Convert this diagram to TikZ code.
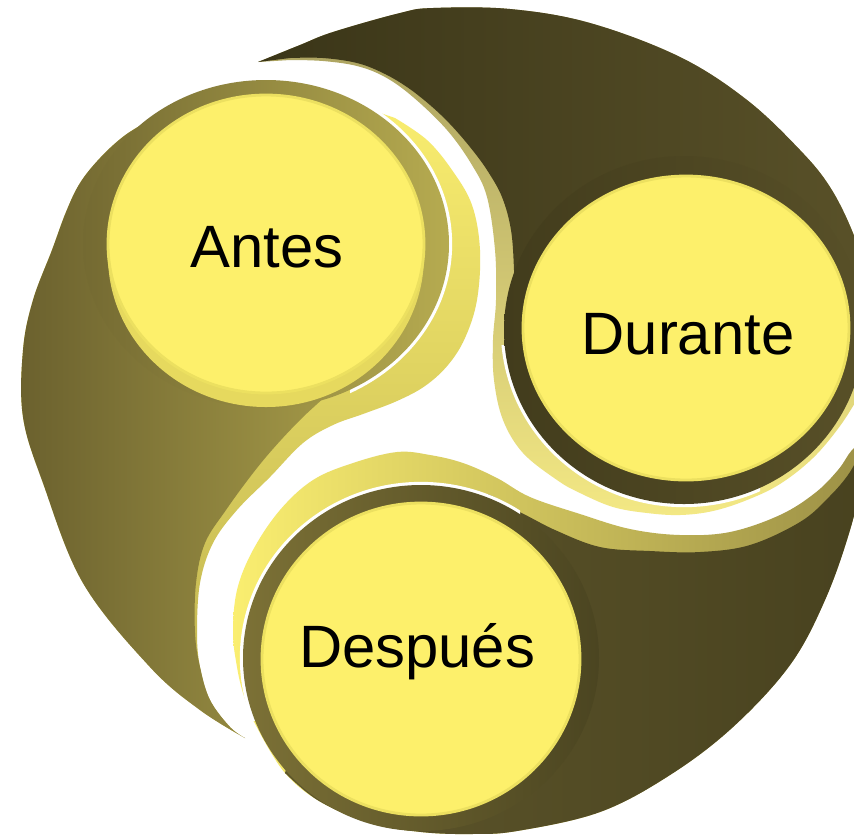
\documentclass[tikz,border=0pt]{standalone}
\usepackage{fontspec}
\setmainfont{Liberation Sans}
\usepackage{xcolor}
\definecolor{yel}{RGB}{253,240,107}
\definecolor{yelrim}{RGB}{236,224,96}
\definecolor{antesBaseL}{RGB}{107,97,46}
\definecolor{antesBaseM}{RGB}{154,144,64}
\definecolor{antesBaseR}{RGB}{176,165,77}
\definecolor{antesHiT}{RGB}{251,239,112}
\definecolor{antesHiM}{RGB}{232,219,100}
\definecolor{antesHiB}{RGB}{189,177,78}
\definecolor{antesRingL}{RGB}{116,106,50}
\definecolor{antesRingR}{RGB}{182,171,80}
\definecolor{antesLow}{RGB}{230,217,94}
\definecolor{durBaseL}{RGB}{58,53,24}
\definecolor{durBaseR}{RGB}{90,82,41}
\definecolor{durHiT}{RGB}{167,158,94}
\definecolor{durHiB}{RGB}{243,232,132}
\definecolor{durRingL}{RGB}{66,60,28}
\definecolor{durRingR}{RGB}{88,80,40}
\definecolor{despBaseL}{RGB}{94,86,43}
\definecolor{despBaseR}{RGB}{72,66,31}
\definecolor{despHiL}{RGB}{250,238,112}
\definecolor{despHiM}{RGB}{227,214,99}
\definecolor{despHiR}{RGB}{156,144,70}
\definecolor{despRingL}{RGB}{124,113,54}
\definecolor{despRingR}{RGB}{75,69,33}
\begin{document}
\begin{tikzpicture}[x=0.01cm, y=-0.01cm,
  lbl/.style={font=\fontsize{17}{20}\selectfont, anchor=base, text=black},
  headyel/.style={fill=yel, draw=yelrim, line width=0.8pt},
  gapline/.style={white, line width=1.8pt}]
  \fill[white] (0,0) rectangle (854,835);
  \useasboundingbox (0,0) rectangle (854,835);
  \clip (0,0) rectangle (854,835);

  % Antes arm: highlight band, then olive tail
  \shade[top color=antesHiT, middle color=antesHiM, bottom color=antesHiB]
    plot[smooth, tension=0.6] coordinates {(245,738) (200,710) (150,667) (83,583) (43,483) (23,417) (23,350) (33,300) (52,250) (66,212) (80,183) (100,158) (124,136) (150,120) (175,106) (215,92) (267,83) (323,89) (360,106)}
    -- plot[smooth, tension=0.6] coordinates {(395,118) (427,140) (452,170) (472,205) (480,250) (477,300) (465,338) (448,365) (425,386) (397,401) (363,414) (333,425) (303,443) (270,477) (237,510) (213,543) (200,583) (197,633) (200,667) (210,700) (230,727) (245,738)} -- cycle;
  \shade[left color=antesBaseL, middle color=antesBaseM, right color=antesBaseR]
    plot[smooth, tension=0.6] coordinates {(245,738) (200,710) (150,667) (83,583) (43,483) (23,417) (23,350) (33,300) (52,250) (66,212) (80,183) (100,158) (124,136) (150,120) (175,106) (215,92) (267,83) (323,89) (360,106)}
    -- plot[smooth, tension=0.6] coordinates {(390,140) (410,250) (395,330) (330,392) (300,420) (272,450) (250,477) (226,510) (205,543) (196,583) (195,633) (200,667) (210,700) (230,727) (245,738)} -- cycle;

  % Durante arm
  \shade[top color=durHiT, bottom color=durHiB]
    plot[smooth, tension=0.6] coordinates {(885,360) (880,320) (870,285) (853,233) (830,187) (800,150) (747,100) (680,57) (590,23) (510,9) (433,8) (400,13) (333,32) (300,45) (258,62)}
    -- plot[smooth, tension=0.6] coordinates {(290,60) (323,61) (357,66) (385,77) (413,97) (447,130) (472,165) (487,197) (495,250) (496,300) (493,340) (494,380) (503,420) (523,453) (557,480) (580,493) (613,507) (647,513) (680,515) (713,511) (747,500) (780,484) (813,458) (840,426) (862,392) (885,360)} -- cycle;
  \shade[left color=durBaseL, right color=durBaseR]
    plot[smooth, tension=0.6] coordinates {(885,360) (880,320) (870,285) (853,233) (830,187) (800,150) (747,100) (680,57) (590,23) (510,9) (433,8) (400,13) (333,32) (300,45) (258,62)}
    -- plot[smooth, tension=0.6] coordinates {(290,58) (323,58) (357,63) (383,73) (407,87) (430,105) (450,124) (470,147) (487,170) (502,197) (511,230) (514,270) (514,300) (525,340) (600,420) (700,440) (830,370) (885,360)} -- cycle;

  % Despues arm
  \shade[left color=despHiL, middle color=despHiM, right color=despHiR]
    plot[smooth, tension=0.6] coordinates {(866,440) (852,450) (838,470) (815,493) (780,515) (730,532) (680,535) (630,529) (580,514) (530,497) (497,478) (463,463) (430,455) (397,452) (353,463) (313,480) (280,510) (253,550) (237,590) (233,633) (237,667) (243,693) (252,718)}
    -- plot[smooth, tension=0.6] coordinates {(261,735) (285,773) (319,801) (370,823) (421,832) (470,834) (517,831) (600,812) (670,775) (733,727) (790,665) (825,600) (850,530) (864,470) (866,440)} -- cycle;
  \shade[left color=despBaseL, right color=despBaseR]
    plot[smooth, tension=0.6] coordinates {(866,440) (850,472) (828,498) (800,522) (750,545) (700,552) (650,551) (600,547) (555,530) (510,508) (470,500) (380,600) (300,720)}
    -- plot[smooth, tension=0.6] coordinates {(285,773) (319,801) (370,823) (421,832) (470,834) (517,831) (600,812) (670,775) (733,727) (790,665) (825,600) (850,530) (864,470) (866,440)} -- cycle;

  % heads
  \begin{scope}
    \clip (350,80) rectangle (500,405);
    \draw[gapline] (266,244) ellipse [x radius=183, y radius=164];
  \end{scope}
  \shade[left color=antesRingL, right color=antesRingR] (266,244) ellipse [x radius=183, y radius=164];
  \fill[antesLow] (266,256) ellipse [x radius=158, y radius=151];
  \fill[headyel] (266,244) ellipse [x radius=158, y radius=149];

  \begin{scope}
    \clip (480,345) rectangle (760,530);
    \draw[gapline] (684,330) ellipse [x radius=180, y radius=174];
  \end{scope}
  \shade[left color=durRingL, right color=durRingR] (684,330) ellipse [x radius=180, y radius=174];
  \fill[headyel] (686,328) ellipse [x radius=163, y radius=152];

  \begin{scope}
    \clip (200,440) rectangle (520,720);
    \draw[gapline] (421,658) ellipse [x radius=178, y radius=173];
  \end{scope}
  \shade[left color=despRingL, right color=despRingR] (421,658) ellipse [x radius=178, y radius=173];
  \fill[headyel] (421,659) ellipse [x radius=159, y radius=156];

  \node[lbl] (antes) at (267,267) {Antes};
  \node[lbl] (durante) at (688,354) {Durante};
  \node[lbl] (despues) at (417,667) {Después};
\end{tikzpicture}
\end{document}
